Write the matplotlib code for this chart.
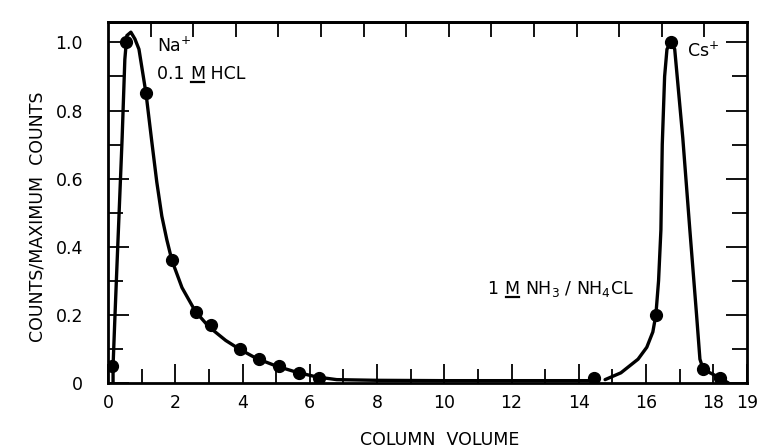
import numpy as np
import matplotlib
matplotlib.use("Agg")
import matplotlib.pyplot as plt
from matplotlib.lines import Line2D

plt.rcParams['font.family'] = ['DejaVu Sans']

# Measured elution points (column volume, counts / maximum counts)
na_x = [0.12, 0.53, 1.13, 1.90, 2.61, 3.06, 3.92, 4.48, 5.07, 5.67, 6.26]
na_y = [0.05, 1.00, 0.85, 0.36, 0.21, 0.17, 0.10, 0.07, 0.05, 0.03, 0.015]
cs_x = [14.45, 16.29, 16.74, 17.70, 18.20]
cs_y = [0.015, 0.20, 1.00, 0.04, 0.015]

# Hand-drawn elution curves
na_curve_x = [0.15, 0.15, 0.20, 0.26, 0.33, 0.42, 0.50, 0.56, 0.68, 0.80, 0.92,
              1.13, 1.30, 1.45, 1.60, 1.75, 1.90, 2.20, 2.60, 3.00, 3.50, 3.90,
              4.40, 5.00, 5.60, 6.20, 6.80, 8.00, 10.0, 12.0, 14.3]
na_curve_y = [0.00, 0.05, 0.18, 0.33, 0.50, 0.72, 0.95, 1.02, 1.03, 1.01, 0.98,
              0.85, 0.71, 0.59, 0.49, 0.42, 0.36, 0.28, 0.21, 0.165, 0.125, 0.10,
              0.073, 0.05, 0.032, 0.018, 0.01, 0.008, 0.007, 0.007, 0.007]
cs_curve_x = [14.78, 15.25, 15.76, 16.02, 16.20, 16.29, 16.37, 16.44, 16.48,
              16.55, 16.62, 16.74, 16.85, 17.09, 17.30, 17.50, 17.60, 17.70,
              18.20, 18.45]
cs_curve_y = [0.01, 0.03, 0.07, 0.105, 0.15, 0.20, 0.30, 0.45, 0.70,
              0.90, 0.98, 1.00, 0.98, 0.72, 0.45, 0.20, 0.07, 0.04,
              0.015, 0.0]

x_tick_vals = [0, 2, 4, 6, 8, 10, 12, 14, 16, 18, 19]
x_tick_labels = ["0", "2", "4", "6", "8", "10", "12", "14", "16", "18", "19"]
y_tick_vals = [0, 0.2, 0.4, 0.6, 0.8, 1.0]
y_tick_labels = ["0", "0.2", "0.4", "0.6", "0.8", "1.0"]

FS = 12.5

fig = plt.figure(figsize=(7.58, 4.48), dpi=100)
ax = fig.add_axes([0.1425, 0.145, 0.843, 0.806])

ax.plot(na_curve_x, na_curve_y, color='black', lw=2.4, solid_capstyle='round')
ax.plot(cs_curve_x, cs_curve_y, color='black', lw=2.4, solid_capstyle='round')
ax.plot(na_x, na_y, 'o', color='black', ms=8.5)
ax.plot(cs_x, cs_y, 'o', color='black', ms=8.5)

ax.set_xlim(0, 19)
ax.set_ylim(0, 1.06)

for s in ax.spines.values():
    s.set_linewidth(2.0)

ax.set_xticks(x_tick_vals)
ax.set_xticklabels(x_tick_labels, fontsize=FS)
ax.set_xticks([v for v in range(1, 19, 2)], minor=True)
ax.set_yticks(y_tick_vals)
ax.set_yticklabels(y_tick_labels, fontsize=FS)
ax.set_yticks(np.arange(0.1, 1.05, 0.2), minor=True)

ax.tick_params(axis='x', which='major', direction='in', length=14, width=1.3,
               pad=8, top=False)
ax.tick_params(axis='x', which='minor', direction='in', length=10, width=1.3,
               top=False)
ax.tick_params(axis='y', which='major', direction='in', length=15, width=1.3,
               pad=18, right=True)
ax.tick_params(axis='y', which='minor', direction='in', length=11, width=1.3,
               right=True)

# Secondary scale on the top edge: 15 equal divisions, unlabeled
top = ax.secondary_xaxis('top')
top.set_xticks(np.linspace(0, 19, 16)[1:-1])
top.set_xticklabels([])
top.tick_params(direction='in', length=11, width=1.3)
top.spines['top'].set_linewidth(2.0)

fig.text(0.58, 3.0 / 448, "COLUMN  VOLUME", fontsize=FS, ha='center',
         va='baseline')
ax.set_ylabel("COUNTS/MAXIMUM  COUNTS", fontsize=FS)
ax.yaxis.set_label_coords(-0.096, 0.46)

txt_kw = dict(fontsize=FS, color='black')
ax.text(1.45, 0.99, "Na$^{+}$", va='center', ha='left', **txt_kw)
ax.text(17.22, 0.975, "Cs$^{+}$", va='center', ha='left', **txt_kw)


def underlined_label(x, y, parts):
    """Draw consecutive text parts on a common baseline; flagged parts are underlined."""
    fig.canvas.draw()
    renderer = fig.canvas.get_renderer()
    disp_x, disp_y = ax.transData.transform((x, y))
    disp_y -= 6.5  # from the text's vertical centre to its baseline
    for text, underline in parts:
        t = ax.text(disp_x, disp_y, text, transform=None, va='baseline',
                    ha='left', **txt_kw)
        bb = t.get_window_extent(renderer)
        if underline:
            ax.add_line(Line2D([bb.x0 + 1, bb.x1 - 1], [disp_y - 3, disp_y - 3],
                               transform=None, color='black', lw=1.6))
        disp_x = bb.x1


underlined_label(1.45, 0.913, [("0.1 ", False), ("M", True), (" HCL", False)])
underlined_label(11.3, 0.28, [("1 ", False), ("M", True),
                              (" NH$_3$ / NH$_4$CL", False)])

fig.savefig("out.png", dpi=100)
